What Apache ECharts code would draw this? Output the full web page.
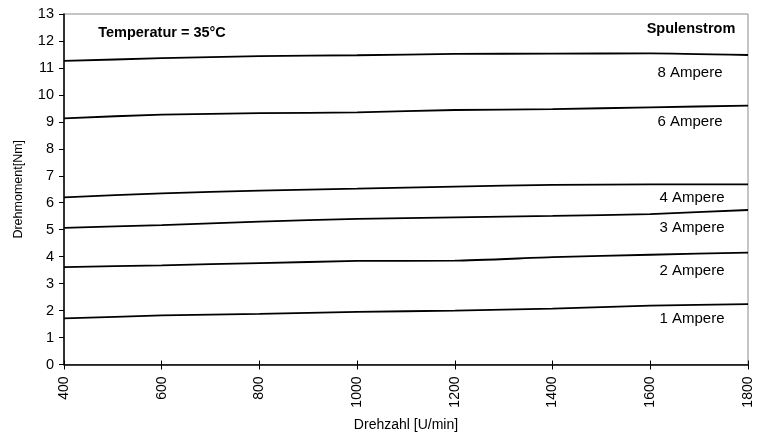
<!DOCTYPE html>
<html><head><meta charset="utf-8">
<script src="https://cdn.jsdelivr.net/npm/echarts@6/dist/echarts.min.js"></script>
<style>html,body{margin:0;padding:0;background:#fff}#c{width:757px;height:436px}</style>
</head><body><div id="c"></div>
<script>
const speeds = [400, 600, 800, 1000, 1200, 1400, 1600, 1800];
const amp8 = [11.26, 11.36, 11.44, 11.47, 11.52, 11.53, 11.54, 11.48];
const amp6 = [9.13, 9.27, 9.32, 9.35, 9.44, 9.47, 9.54, 9.60];
const amp4 = [6.20, 6.35, 6.45, 6.52, 6.60, 6.66, 6.68, 6.68];
const amp3 = [5.07, 5.17, 5.30, 5.40, 5.46, 5.51, 5.58, 5.73];
const amp2 = [3.61, 3.68, 3.76, 3.84, 3.85, 3.98, 4.07, 4.15];
const amp1 = [1.71, 1.82, 1.88, 1.95, 2.00, 2.07, 2.18, 2.24];
const seriesNames = ['8 Ampere', '6 Ampere', '4 Ampere', '3 Ampere', '2 Ampere', '1 Ampere'];
const seriesValues = [amp8, amp6, amp4, amp3, amp2, amp1];
const yTicks = [0,1,2,3,4,5,6,7,8,9,10,11,12,13];
const xTicks = [400,600,800,1000,1200,1400,1600,1800];

const FONT = 'Liberation Sans, Arial, sans-serif';
const chart = echarts.init(document.getElementById('c'), null, {renderer: 'canvas'});

const labelPos = [
  {x: 690, y: 73},
  {x: 690, y: 122},
  {x: 692, y: 198},
  {x: 692, y: 228},
  {x: 692, y: 271},
  {x: 692, y: 319}
];

chart.setOption({
  animation: false,
  backgroundColor: '#fff',
  grid: {left: 64, right: 9, top: 14, bottom: 71.5, show: true, borderColor: '#8a8a8a', borderWidth: 1,
    containLabel: false, outerBoundsMode: 'none'},
  xAxis: [{
    type: 'value', min: xTicks[0], max: xTicks[xTicks.length-1], interval: 200,
    name: 'Drehzahl [U/min]', nameLocation: 'middle', nameGap: 54,
    nameTextStyle: {fontFamily: FONT, fontSize: 14, color: '#000'},
    axisLine: {show: true, lineStyle: {color: '#000', width: 1.5}},
    axisTick: {show: true, length: 5, lineStyle: {color: '#000'}},
    axisLabel: {rotate: 90, fontFamily: FONT, fontSize: 14, color: '#000', margin: 12,
      formatter: v => String(v)},
    splitLine: {show: false}
  }, {
    type: 'value', min: xTicks[0], max: xTicks[xTicks.length-1], interval: 200, position: 'bottom',
    axisLine: {show: false},
    axisTick: {show: true, inside: true, length: 4, lineStyle: {color: '#000'}},
    axisLabel: {show: false}, splitLine: {show: false}
  }],
  yAxis: {
    type: 'value', min: 0, max: 13, interval: 1,
    name: 'Drehmoment[Nm]', nameLocation: 'middle', nameGap: 39,
    nameTextStyle: {fontFamily: FONT, fontSize: 12.5, color: '#000'},
    axisLine: {show: true, lineStyle: {color: '#000', width: 1.5}},
    axisTick: {show: true, length: 5, lineStyle: {color: '#000'}},
    axisLabel: {fontFamily: FONT, fontSize: 14.5, color: '#000', margin: 10},
    splitLine: {show: false}
  },
  series: seriesValues.map((vals, i) => ({
    type: 'line', name: seriesNames[i], xAxisIndex: 0,
    data: speeds.map((s, j) => [s, vals[j]]),
    showSymbol: false, smooth: 0.2,
    lineStyle: {color: '#000', width: 1.8}
  })),
  graphic: [
    {type: 'text', x: 162, y: 32.5, style: {text: 'Temperatur = 35°C', font: 'bold 14.5px ' + FONT, fill: '#000', align: 'center', verticalAlign: 'middle'}},
    {type: 'text', x: 691, y: 29, style: {text: 'Spulenstrom', font: 'bold 14.5px ' + FONT, fill: '#000', align: 'center', verticalAlign: 'middle'}}
  ].concat(seriesNames.map((n, i) => ({
    type: 'text', x: labelPos[i].x, y: labelPos[i].y,
    style: {text: n, font: '15px ' + FONT, fill: '#000', align: 'center', verticalAlign: 'middle'}
  })))
});
</script>
</body></html>
